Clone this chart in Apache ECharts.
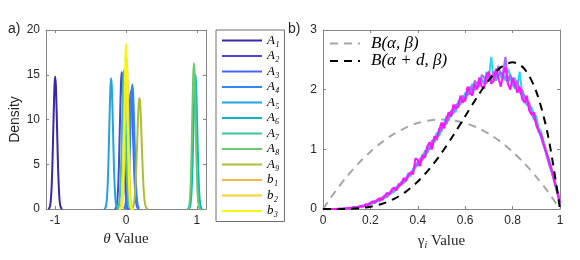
<!DOCTYPE html>
<html><head><meta charset="utf-8">
<script src="https://cdn.jsdelivr.net/npm/echarts@6/dist/echarts.min.js"></script>
<style>html,body{margin:0;padding:0;background:#fff}#c{width:580px;height:260px}</style>
</head><body><div id="c"></div>
<script>
// ---------- Panel a) : density of theta values ----------
const thetaNames = ['A₁','A₂','A₃','A₄','A₅','A₆','A₇','A₈','A₉','b₁','b₂','b₃'];
const thetaColors = ['#3e26a8','#4845e0','#4567f5','#2e86f5','#22a3e2','#0bb4c4','#3bc3a2','#68ca6c','#aebd35','#f5b83f','#f9d02c','#f7f517'];

const xA1 = [-1.10,-1.09,-1.08,-1.07,-1.06,-1.05,-1.04,-1.03,-1.02,-1.01,-1.00,-0.99,-0.98,-0.97,-0.96,-0.95,-0.94,-0.93,-0.92,-0.91,-0.90];
const yA1 = [0.01,0.04,0.16,0.46,1.2,2.5,4.8,7.9,11.1,13.8,14.8,13.7,11.0,7.8,4.7,2.6,1.15,0.45,0.17,0.05,0.01];
const xA2 = [-0.16,-0.15,-0.14,-0.13,-0.12,-0.11,-0.10,-0.09,-0.08,-0.07,-0.06,-0.05,-0.04,-0.03,-0.02,-0.01,0.00,0.01,0.02,0.03,0.04];
const yA2 = [0.02,0.05,0.17,0.48,1.2,2.6,4.9,8.1,11.5,14.2,15.3,14.2,11.4,8.1,4.9,2.6,1.2,0.47,0.17,0.05,0.02];
const xA3 = [-0.03,-0.02,-0.01,0.00,0.01,0.02,0.03,0.04,0.05,0.06,0.07,0.08,0.09,0.10,0.11,0.12,0.13,0.14,0.15,0.16,0.17];
const yA3 = [0.05,0.16,0.4,0.9,1.85,3.3,5.5,8.0,10.6,12.5,13.2,12.5,10.6,8.0,5.5,3.3,1.85,0.9,0.4,0.16,0.05];
const xA4 = [-0.01,0.00,0.01,0.02,0.03,0.04,0.05,0.06,0.07,0.08,0.09,0.10,0.11,0.12,0.13,0.14,0.15,0.16,0.17,0.18,0.19];
const yA4 = [0.03,0.1,0.3,0.7,1.6,3.1,5.3,8.1,10.8,13.1,13.9,13.0,10.9,8.0,5.3,3.0,1.6,0.7,0.3,0.1,0.03];
const xA5 = [-0.31,-0.30,-0.29,-0.28,-0.27,-0.26,-0.25,-0.24,-0.23,-0.22,-0.21,-0.20,-0.19,-0.18,-0.17,-0.16,-0.15,-0.14,-0.13,-0.12,-0.11];
const yA5 = [0.01,0.04,0.16,0.45,1.15,2.5,4.7,7.8,11.0,13.6,14.6,13.6,10.9,7.7,4.7,2.5,1.15,0.45,0.16,0.04,0.01];
const xA6 = [0.88,0.89,0.90,0.91,0.92,0.93,0.94,0.95,0.96,0.97,0.98,0.99,1.00,1.01,1.02,1.03,1.04,1.05,1.06,1.07,1.08];
const yA6 = [0.02,0.05,0.17,0.47,1.2,2.6,4.8,8.0,11.3,14.0,15.0,14.0,11.2,7.9,4.8,2.5,1.2,0.46,0.16,0.05,0.02];
const xA7 = [-0.13,-0.12,-0.11,-0.10,-0.09,-0.08,-0.07,-0.06,-0.05,-0.04,-0.03,-0.02,-0.01,0.00,0.01,0.02,0.03,0.04,0.05,0.06,0.07];
const yA7 = [0.01,0.04,0.15,0.45,1.1,2.6,4.8,8.1,11.6,14.4,15.5,14.4,11.5,8.2,4.9,2.6,1.15,0.45,0.15,0.04,0.01];
const xA8 = [0.86,0.87,0.88,0.89,0.90,0.91,0.92,0.93,0.94,0.95,0.96,0.97,0.98,0.99,1.00,1.01,1.02,1.03,1.04,1.05,1.06];
const yA8 = [0.0,0.02,0.08,0.28,0.8,2.0,4.2,7.7,11.7,15.0,16.3,15.0,11.8,7.6,4.3,2.0,0.8,0.28,0.08,0.02,0.0];
const xA9 = [0.07,0.08,0.09,0.10,0.11,0.12,0.13,0.14,0.15,0.16,0.17,0.18,0.19,0.20,0.21,0.22,0.23,0.24,0.25,0.26,0.27,0.28,0.29,0.30,0.31];
const yA9 = [0.0,0.04,0.1,0.24,0.55,1.1,2.1,3.7,5.7,7.9,10.2,11.8,12.4,11.8,10.2,7.9,5.7,3.7,2.1,1.1,0.55,0.24,0.1,0.04,0.0];
const xB1 = [-0.10,-0.09,-0.08,-0.07,-0.06,-0.05,-0.04,-0.03,-0.02,-0.01,0.00,0.01,0.02,0.03,0.04,0.05,0.06,0.07,0.08,0.09,0.10];
const yB1 = [0.01,0.03,0.12,0.4,1.05,2.4,4.7,8.0,11.7,14.7,15.8,14.7,11.7,8.0,4.6,2.4,1.05,0.4,0.12,0.03,0.01];
const xB2 = [-0.09,-0.08,-0.07,-0.06,-0.05,-0.04,-0.03,-0.02,-0.01,0.00,0.01,0.02,0.03,0.04,0.05,0.06,0.07,0.08,0.09,0.10,0.11];
const yB2 = [0.0,0.01,0.06,0.21,0.67,1.8,4.0,7.6,11.8,15.4,16.8,15.4,11.8,7.6,4.0,1.8,0.67,0.21,0.06,0.01,0.0];
const xB3 = [-0.10,-0.09,-0.08,-0.07,-0.06,-0.05,-0.04,-0.03,-0.02,-0.01,0.00,0.01,0.02,0.03,0.04,0.05,0.06,0.07,0.08,0.09,0.10];
const yB3 = [0,0,0.02,0.1,0.4,1.3,3.3,7.0,12.0,16.6,18.5,16.6,12.0,7.0,3.3,1.3,0.4,0.1,0.02,0,0];

const thetaX = [xA1,xA2,xA3,xA4,xA5,xA6,xA7,xA8,xA9,xB1,xB2,xB3];
const thetaY = [yA1,yA2,yA3,yA4,yA5,yA6,yA7,yA8,yA9,yB1,yB2,yB3];
const thetaTicks = [-1, 0, 1];

// ---------- Panel b) : density of gamma_i values ----------
const gammaGrid = [0,0.01,0.02,0.03,0.04,0.05,0.06,0.07,0.08,0.09,
 0.10,0.11,0.12,0.13,0.14,0.15,0.16,0.17,0.18,0.19,
 0.20,0.21,0.22,0.23,0.24,0.25,0.26,0.27,0.28,0.29,
 0.30,0.31,0.32,0.33,0.34,0.35,0.36,0.37,0.38,0.39,
 0.40,0.41,0.42,0.43,0.44,0.45,0.46,0.47,0.48,0.49,
 0.50,0.51,0.52,0.53,0.54,0.55,0.56,0.57,0.58,0.59,
 0.60,0.61,0.62,0.63,0.64,0.65,0.66,0.67,0.68,0.69,
 0.70,0.71,0.72,0.73,0.74,0.75,0.76,0.77,0.78,0.79,
 0.80,0.81,0.82,0.83,0.84,0.85,0.86,0.87,0.88,0.89,
 0.90,0.91,0.92,0.93,0.94,0.95,0.96,0.97,0.98,0.99,1.00];
const gammaCyan = [0,0,0,0,0,0,0,0,0.01,0.01,
 0.02,0.01,0.02,0.03,0.02,0.04,0.05,0.04,0.07,0.06,
 0.08,0.1,0.14,0.13,0.15,0.2,0.18,0.22,0.28,0.27,
 0.3,0.38,0.36,0.42,0.45,0.5,0.58,0.55,0.68,0.7,
 0.75,0.8,0.92,0.88,0.95,1.1,1.05,1.15,1.28,1.22,
 1.35,1.42,1.55,1.48,1.6,1.7,1.62,1.8,1.85,1.78,
 1.95,1.9,2.0,2.1,1.98,2.05,2.2,2.15,2.1,2.3,
 2.2,2.55,2.15,2.2,2.3,2.2,2.28,2.15,2.35,2.25,
 2.1,2.2,2.05,2.3,1.95,1.9,1.85,1.75,1.7,1.6,
 1.55,1.35,1.3,1.15,1.0,0.88,0.75,0.6,0.45,0.3,0.12];
const gammaBlue = [0,0,0,0,0,0,0,0,0,0.01,
 0.01,0.02,0.01,0.03,0.03,0.04,0.03,0.06,0.05,0.08,
 0.09,0.11,0.1,0.15,0.17,0.16,0.21,0.24,0.26,0.3,
 0.29,0.36,0.4,0.44,0.43,0.52,0.57,0.6,0.65,0.7,
 0.8,0.78,0.85,0.98,0.95,1.02,1.15,1.12,1.2,1.25,
 1.38,1.4,1.45,1.58,1.55,1.62,1.72,1.78,1.75,1.88,
 1.85,1.95,1.92,2.05,2.08,2.02,2.12,2.18,2.1,2.15,
 2.25,2.2,2.28,2.15,2.25,2.3,2.18,2.22,2.12,2.2,
 2.08,2.02,2.1,1.95,1.92,1.8,1.75,1.72,1.6,1.5,
 1.45,1.3,1.2,1.08,0.95,0.82,0.68,0.55,0.4,0.25,0.1];
const gammaPurple = [0,0,0,0,0,0,0,0,0,0.01,
 0.01,0.01,0.02,0.02,0.03,0.02,0.04,0.05,0.07,0.08,
 0.11,0.09,0.13,0.14,0.13,0.19,0.22,0.2,0.25,0.3,
 0.34,0.33,0.38,0.45,0.48,0.46,0.6,0.58,0.62,0.75,
 0.72,0.85,0.82,0.92,1.02,1.0,1.1,1.2,1.15,1.35,
 1.3,1.45,1.42,1.52,1.65,1.6,1.75,1.7,1.82,1.9,
 1.8,1.95,2.05,1.98,2.15,2.1,2.05,2.25,2.2,2.1,
 2.28,2.15,2.3,2.22,2.4,2.25,2.3,2.55,2.15,2.25,
 2.15,2.05,2.15,1.98,2.0,1.88,1.8,1.78,1.62,1.55,
 1.45,1.32,1.22,1.08,0.95,0.8,0.68,0.55,0.4,0.26,0.1];
const gammaMagenta = [0,0,0,0,0,0,0,0.01,0,0.01,
 0.01,0.02,0.01,0.03,0.02,0.04,0.05,0.04,0.08,0.06,
 0.1,0.13,0.11,0.16,0.18,0.15,0.22,0.27,0.24,0.33,
 0.36,0.31,0.42,0.4,0.52,0.48,0.55,0.62,0.58,0.85,
 0.82,0.72,0.9,0.86,1.05,1.12,1.0,1.22,1.18,1.32,
 1.45,1.35,1.5,1.62,1.55,1.75,1.68,1.72,1.9,1.78,
 1.85,2.05,1.95,1.9,2.1,2.0,2.2,2.05,2.02,2.25,
 2.3,2.1,2.15,2.35,2.2,2.05,2.25,2.38,2.1,2.0,
 2.2,2.1,1.95,2.05,1.85,1.78,1.9,1.65,1.58,1.62,
 1.4,1.3,1.25,1.1,0.98,0.85,0.72,0.58,0.42,0.26,0.1];
const gammaSeries = [gammaCyan, gammaBlue, gammaPurple, gammaMagenta];
const gammaColors = ['#2ad6f8','#55a6fa','#a06cf5','#ff14ff'];

const betaGrid = [0,0.05,0.10,0.15,0.20,0.25,0.30,0.35,0.40,0.45,0.50,0.55,0.60,0.65,0.70,0.75,0.80,0.85,0.90,0.95,1.00];
const betaPrior = [0,0.285,0.54,0.765,0.96,1.125,1.26,1.365,1.44,1.485,1.5,1.485,1.44,1.365,1.26,1.125,0.96,0.765,0.54,0.285,0];
const betaPost = [0,0.0002,0.0027,0.0129,0.0384,0.0879,0.170,0.292,0.461,0.677,0.9375,1.235,1.555,1.874,2.161,2.373,2.458,2.349,1.968,1.222,0];
const betaNames = ['B(α, β)', 'B(α + d, β)'];

// ---------- build ----------
const zip = (xs, ys) => xs.map((x, i) => [x, ys[i]]);
const AX = '#858585', TXT = '#262626';
function axisBase(extra) {
  return Object.assign({
    type: 'value',
    axisLine: { show: true, onZero: false, lineStyle: { color: AX, width: 1 } },
    axisTick: { show: true, inside: true, length: 3, lineStyle: { color: AX } },
    axisLabel: { color: TXT, fontSize: 12, fontFamily: 'Liberation Sans', margin: 6 },
    splitLine: { show: false }
  }, extra);
}
function hidden(ax) { ax.axisLabel = Object.assign({}, ax.axisLabel, { show: false }); return ax; }

const series = [];
thetaNames.forEach((n, i) => series.push({
  name: n, type: 'line', xAxisIndex: 0, yAxisIndex: 0, symbol: 'none', smooth: 0.2,
  data: zip(thetaX[i], thetaY[i]), lineStyle: { width: 2, color: thetaColors[i] }, itemStyle: { color: thetaColors[i] },
  z: 2 + i
}));
series.push({ name: betaNames[0], type: 'line', xAxisIndex: 2, yAxisIndex: 2, symbol: 'none', smooth: 0.3,
  data: zip(betaGrid, betaPrior), lineStyle: { width: 2, color: '#a6a6a6', type: [8, 6] }, itemStyle: { color: '#a6a6a6' }, z: 2 });
gammaSeries.forEach((g, i) => series.push({
  name: 'g' + i, type: 'line', xAxisIndex: 2, yAxisIndex: 2, symbol: 'none',
  data: zip(gammaGrid, g), lineStyle: { width: 2, color: gammaColors[i] }, z: 3 + i
}));
series.push({ name: betaNames[1], type: 'line', xAxisIndex: 2, yAxisIndex: 2, symbol: 'none', smooth: 0.3,
  data: zip(betaGrid, betaPost), lineStyle: { width: 2, color: '#000', type: [8, 6] }, itemStyle: { color: '#000' }, z: 10 });

const lx = { min: -1.13, max: 1.13 };
const option = {
  animation: false,
  backgroundColor: '#fff',
  grid: [
    { left: 46, top: 30, width: 160, height: 179 },
    { left: 323, top: 30, width: 237, height: 179 }
  ],
  xAxis: [
    axisBase(Object.assign({ gridIndex: 0, position: 'bottom',
      axisLabel: { color: TXT, fontSize: 12, fontFamily: 'Liberation Sans', margin: 6, customValues: thetaTicks },
      axisTick: { show: true, inside: true, length: 3, lineStyle: { color: AX }, customValues: thetaTicks },
      name: '{i|θ} Value', nameLocation: 'middle', nameGap: 21,
      nameTextStyle: { fontFamily: 'Liberation Serif', fontSize: 15, color: TXT, rich: { i: { fontFamily: 'Liberation Serif', fontStyle: 'italic', fontSize: 15, color: TXT } } }
    }, lx)),
    hidden(axisBase(Object.assign({ gridIndex: 0, position: 'top',
      axisTick: { show: true, inside: true, length: 3, lineStyle: { color: AX }, customValues: thetaTicks } }, lx))),
    axisBase({ gridIndex: 1, position: 'bottom', min: 0, max: 1, interval: 0.2,
      name: '{g|γ}{s|i} Value', nameLocation: 'middle', nameGap: 19,
      nameTextStyle: { fontFamily: 'Liberation Serif', fontSize: 15, color: TXT, lineHeight: 18,
        rich: { g: { fontFamily: 'Liberation Serif', fontSize: 15, color: TXT, lineHeight: 18 },
                s: { fontFamily: 'Liberation Serif', fontStyle: 'italic', fontSize: 10, color: TXT, lineHeight: 10, verticalAlign: 'bottom' } } } }),
    hidden(axisBase({ gridIndex: 1, position: 'top', min: 0, max: 1, interval: 0.2 }))
  ],
  yAxis: [
    axisBase({ gridIndex: 0, position: 'left', min: 0, max: 20, interval: 5,
      name: 'Density', nameLocation: 'middle', nameGap: 24,
      nameTextStyle: { fontFamily: 'Liberation Sans', fontSize: 14, color: TXT } }),
    hidden(axisBase({ gridIndex: 0, position: 'right', min: 0, max: 20, interval: 5 })),
    axisBase({ gridIndex: 1, position: 'left', min: 0, max: 3, interval: 1 }),
    hidden(axisBase({ gridIndex: 1, position: 'right', min: 0, max: 3, interval: 1 }))
  ],
  legend: [
    { data: thetaNames, orient: 'vertical', left: 216, top: 30, itemWidth: 40, itemHeight: 12, itemGap: 2.5,
      padding: [4, 5, 4, 5], borderColor: '#6e6e6e', borderWidth: 1, selectedMode: false,
      itemStyle: { opacity: 0 },
      textStyle: { fontFamily: 'Liberation Serif', fontStyle: 'italic', fontSize: 13, color: '#000', lineHeight: 12 } },
    { data: betaNames, orient: 'vertical', left: 329, top: 35, itemWidth: 30, itemHeight: 12, itemGap: 0.5,
      padding: 0, selectedMode: false,
      itemStyle: { opacity: 0 },
      formatter: n => '{t|' + n + '}',
      textStyle: { fontFamily: 'Liberation Serif', fontStyle: 'italic', fontSize: 17, color: '#000', lineHeight: 12,
        rich: { t: { fontFamily: 'Liberation Serif', fontStyle: 'italic', fontSize: 17, color: '#000', padding: [0, 0, 0, 6] } } } }
  ],
  graphic: [
    { type: 'text', left: 8, top: 22, style: { text: 'a)', font: '14px Liberation Sans', fill: TXT } },
    { type: 'text', left: 288, top: 22, style: { text: 'b)', font: '14px Liberation Sans', fill: TXT } }
  ],
  series: series
};
const chart = echarts.init(document.getElementById('c'), null, { renderer: 'canvas' });
chart.setOption(option);
</script></body></html>
